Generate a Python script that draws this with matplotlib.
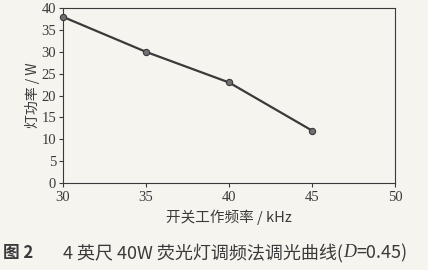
import matplotlib.pyplot as plt

plt.rcParams['font.family'] = ['Liberation Serif', 'Noto Sans CJK SC']

freq = [30, 35, 40, 45]
power = [38, 30, 23, 12]
x_ticks = [30, 35, 40, 45, 50]
y_ticks = [0, 5, 10, 15, 20, 25, 30, 35, 40]

bg = '#f6f4ef'
ink = '#3a3a3a'

fig = plt.figure(figsize=(4.28, 2.70), dpi=100, facecolor=bg)
ax = fig.add_axes([0.147, 0.322, 0.776, 0.648], facecolor=bg)

ax.plot(freq, power, color=ink, lw=1.6, marker='o', ms=4.5,
        mfc='#707070', mec=ink, mew=0.8, clip_on=False, zorder=3)

ax.set_xlim(30, 50)
ax.set_ylim(0, 40)
ax.set_xticks(x_ticks)
ax.set_yticks(y_ticks)
ax.tick_params(direction='out', length=3, width=0.8, color=ink,
               labelsize=10.5, labelcolor=ink, pad=2)
ax.tick_params(axis='x', pad=3)
for s in ax.spines.values():
    s.set_color(ink)
    s.set_linewidth(0.8)

cjk = ['Noto Sans CJK SC', 'Liberation Serif']
ax.set_xlabel('开关工作频率 / kHz', fontsize=10.5, color=ink, labelpad=4, family=cjk)
ax.set_ylabel('灯功率 / W', fontsize=10, color=ink, labelpad=1, family=cjk)

# caption, pieces placed one after the other
fig.text(0.008, 0.063, '图 2', fontsize=12, color=ink, weight='bold',
         family=cjk, va='center')
renderer = fig.canvas.get_renderer()
x = 0.147
for piece, style, fam in [('4 英尺 40W 荧光灯调频法调光曲线(', 'normal', cjk),
                          ('D', 'italic', ['Liberation Serif']),
                          ('=0.45)', 'normal', cjk)]:
    t = fig.text(x, 0.063, piece, fontsize=13, color=ink, style=style,
                 family=fam, va='center')
    x += t.get_window_extent(renderer).width / fig.bbox.width

fig.savefig('out.png', dpi=100, facecolor=bg)
